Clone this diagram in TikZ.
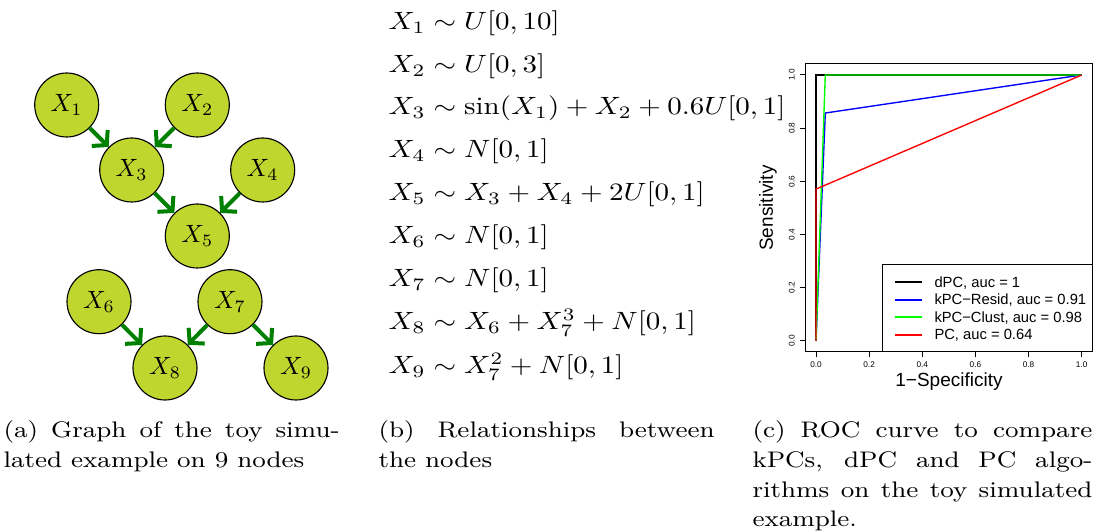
\documentclass[tikz,border=0pt]{standalone}
\usepackage{fontspec}
\usepackage{amsmath}
\usepackage{graphicx}
\usetikzlibrary{arrows.meta}
\newfontfamily\rfont{Liberation Sans}
\definecolor{nodefill}{RGB}{191,214,47}
\definecolor{edgegreen}{RGB}{0,128,0}
\definecolor{rblue}{RGB}{0,0,255}
\definecolor{rgreen}{RGB}{0,255,0}
\definecolor{rred}{RGB}{255,0,0}
\newcommand{\hstr}[1]{\scalebox{1.16}[1]{#1}}
\newcommand{\cstr}[1]{\scalebox{1.17}[1]{#1}}
\begin{document}
\begin{tikzpicture}[x=0.4pt,y=-0.4pt,
  var/.style={circle, draw=black, line width=0.45pt, fill=nodefill, minimum size=25.6pt, inner sep=0pt, font=\fontsize{10}{12}\selectfont},
  edge/.style={draw=edgegreen, line width=1.6pt, -{Straight Barb[length=4pt,width=9pt]}},
  eq/.style={anchor=base west, inner sep=0pt, font=\fontsize{10}{12}\selectfont},
  capt/.style={anchor=base west, inner sep=0pt, font=\fontsize{9}{11}\selectfont},
  tick/.style={inner sep=0pt, font=\rfont\fontsize{3.3}{4}\selectfont},
  axtitle/.style={inner sep=0pt, font=\rfont\fontsize{7.6}{9}\selectfont},
  legtext/.style={anchor=base west, inner sep=0pt, font=\rfont\fontsize{5.9}{7}\selectfont},
  frame/.style={draw=black, line width=0.4pt},
  curve/.style={line width=0.55pt},
  legline/.style={line width=0.8pt}]
\useasboundingbox (0,0) rectangle (1096,532);

% (a) graph
\node[var] (x1) at (66.7,105) {$X_1$};
\node[var] (x2) at (197.3,105) {$X_2$};
\node[var] (x3) at (131.7,170) {$X_3$};
\node[var] (x4) at (262.7,170) {$X_4$};
\node[var] (x5) at (197.3,236) {$X_5$};
\node[var] (x6) at (99,301.7) {$X_6$};
\node[var] (x7) at (230,301.7) {$X_7$};
\node[var] (x8) at (165,368) {$X_8$};
\node[var] (x9) at (296,368) {$X_9$};
\draw[edge] (x1) -- (x3);
\draw[edge] (x2) -- (x3);
\draw[edge] (x3) -- (x5);
\draw[edge] (x4) -- (x5);
\draw[edge] (x6) -- (x8);
\draw[edge] (x7) -- (x8);
\draw[edge] (x7) -- (x9);

% (b) relationships
\node[eq] (e1) at (388,30) {\hstr{$X_1 \sim U[0,10]$}};
\node[eq] (e2) at (388,72.5) {\hstr{$X_2 \sim U[0,3]$}};
\node[eq] (e3) at (388,115) {\hstr{$X_3 \sim \sin(X_1) + X_2 + 0.6U[0,1]$}};
\node[eq] (e4) at (388,158) {\hstr{$X_4 \sim N[0,1]$}};
\node[eq] (e5) at (388,201) {\hstr{$X_5 \sim X_3 + X_4 + 2U[0,1]$}};
\node[eq] (e6) at (388,244) {\hstr{$X_6 \sim N[0,1]$}};
\node[eq] (e7) at (388,287) {\hstr{$X_7 \sim N[0,1]$}};
\node[eq] (e8) at (388,330) {\hstr{$X_8 \sim X_6 + X_7^3 + N[0,1]$}};
\node[eq] (e9) at (388,374) {\hstr{$X_9 \sim X_7^2 + N[0,1]$}};

% (c) ROC plot
\draw[frame] (805,64) rectangle (1092.3,351.7);
\foreach \i/\lab in {0/0.0,1/0.2,2/0.4,3/0.6,4/0.8,5/1.0} {
  \draw[frame] ({816+\i*53.14},351.7) -- ({816+\i*53.14},357);
  \node[tick, anchor=base] (xt\i) at ({816+\i*53.14},368) {\lab};
  \draw[frame] (805,{341-\i*53.2}) -- (799.7,{341-\i*53.2});
  \node[tick, rotate=90] (yt\i) at (791.7,{341-\i*53.2}) {\lab};
}
\node[axtitle, rotate=90] (ylab) at (768,208) {Sensitivity};
\node[axtitle, anchor=base] (xlab) at (949,387) {1\textminus Specificity};

\begin{scope}[shift={(816,341)}, x=106.28pt, y=106.4pt]
  \draw[curve, black] (0,0) -- (0,1) -- (1,1);
  \draw[curve, rblue] (0,0) -- (0.035,0.857) -- (1,1);
  \draw[curve, rgreen] (0,0) -- (0.035,1) -- (1,1);
  \draw[curve, rred] (0,0) -- (0,0.571) -- (1,1);
\end{scope}

\draw[frame, fill=white] (882.7,265) rectangle (1092.3,351.7);
\draw[legline, black] (895,282.5) -- (921.7,282.5);
\draw[legline, rblue] (895,300) -- (921.7,300);
\draw[legline, rgreen] (895,317.5) -- (921.7,317.5);
\draw[legline, rred] (895,335) -- (921.7,335);
\node[legtext] (lg1) at (934,287.3) {dPC, auc = 1};
\node[legtext] (lg2) at (934,304.8) {kPC\textminus Resid, auc = 0.91};
\node[legtext] (lg3) at (934,322.3) {kPC\textminus Clust, auc = 0.98};
\node[legtext] (lg4) at (934,339.8) {PC, auc = 0.64};

% captions
\node[capt] (ca1) at (3,438) {\cstr{\hbox to 114.9pt{(a) Graph of the toy simu-}}};
\node[capt] (ca2) at (3,468) {\cstr{lated example on 9 nodes}};
\node[capt] (cb1) at (378,438) {\cstr{\hbox to 114.9pt{(b) Relationships between}}};
\node[capt] (cb2) at (378,468) {\cstr{the nodes}};
\node[capt] (cc1) at (752,438) {\cstr{\hbox to 116.2pt{(c) ROC curve to compare}}};
\node[capt] (cc2) at (752,468) {\cstr{\hbox to 116.2pt{kPCs, dPC and PC algo-}}};
\node[capt] (cc3) at (752,497.5) {\cstr{\hbox to 116.2pt{rithms on the toy simulated}}};
\node[capt] (cc4) at (752,527) {\cstr{example.}};
\end{tikzpicture}
\end{document}
